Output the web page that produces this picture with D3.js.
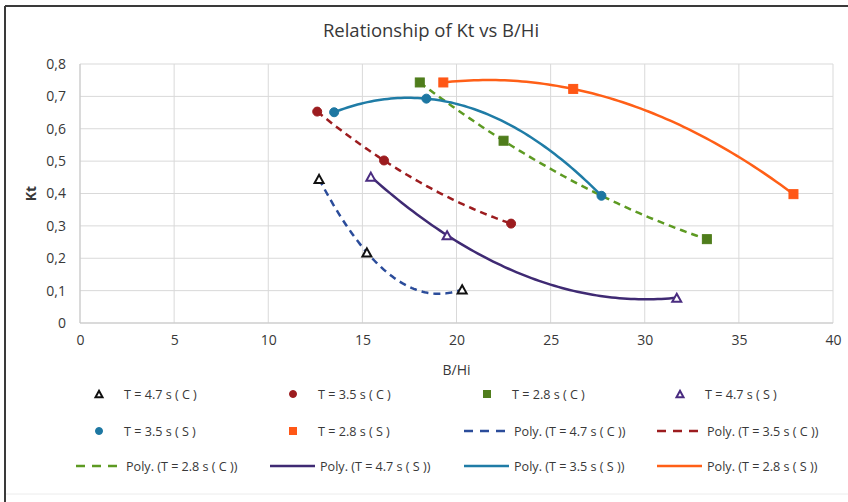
<!DOCTYPE html>
<html>
<head>
<meta charset="utf-8">
<script src="https://cdn.jsdelivr.net/npm/d3@7"></script>
<style>
  body { margin: 0; background: #fff; }
  text { font-family: "Open Sans", "Liberation Sans", sans-serif; fill: #383838; }
</style>
</head>
<body>
<div id="chart"></div>
<script>
// data
var seriesNames = ["T = 4.7 s ( C )", "T = 3.5 s ( C )", "T = 2.8 s ( C )",
                   "T = 4.7 s ( S )", "T = 3.5 s ( S )", "T = 2.8 s ( S )"];
var bhi47C = [12.7, 15.24, 20.3];  var kt47C = [0.445, 0.218, 0.104];
var bhi35C = [12.6, 16.15, 22.9];  var kt35C = [0.653, 0.502, 0.307];
var bhi28C = [18.05, 22.5, 33.3];  var kt28C = [0.743, 0.563, 0.259];
var bhi47S = [15.45, 19.5, 31.7];  var kt47S = [0.452, 0.271, 0.078];
var bhi35S = [13.5, 18.4, 27.7];   var kt35S = [0.651, 0.693, 0.393];
var bhi28S = [19.3, 26.2, 37.9];   var kt28S = [0.743, 0.723, 0.398];
var xTicks = [0, 5, 10, 15, 20, 25, 30, 35, 40];
var yTicks = [0, 0.1, 0.2, 0.3, 0.4, 0.5, 0.6, 0.7, 0.8];
var yTickLabels = ["0", "0,1", "0,2", "0,3", "0,4", "0,5", "0,6", "0,7", "0,8"];

var svgWidth = 848, svgHeight = 502;
var plot = {left: 80, right: 833, top: 64, bottom: 323};

var svg = d3.select("#chart").append("svg")
    .attr("width", svgWidth)
    .attr("height", svgHeight);

// chart frame (cut off on the right)
svg.append("line").attr("x1", 5).attr("x2", svgWidth).attr("y1", 6).attr("y2", 6)
    .style("stroke", "#3a3a3a").style("stroke-width", 2);
svg.append("line").attr("x1", 5).attr("x2", 5).attr("y1", 6).attr("y2", svgHeight)
    .style("stroke", "#3a3a3a").style("stroke-width", 2);
svg.append("line").attr("x1", 6).attr("x2", svgWidth).attr("y1", 494).attr("y2", 494)
    .style("stroke", "#ececec").style("stroke-width", 1);

var x = d3.scaleLinear().domain([0, 40]).range([plot.left, plot.right]);
var y = d3.scaleLinear().domain([0, 0.8]).range([plot.bottom, plot.top]);

// gridlines
svg.append("g").selectAll("line").data(xTicks).enter().append("line")
    .attr("x1", function(d){ return x(d); }).attr("x2", function(d){ return x(d); })
    .attr("y1", plot.top).attr("y2", plot.bottom)
    .style("stroke", "#d9d9d9").style("stroke-width", 1);
svg.append("g").selectAll("line").data(yTicks).enter().append("line")
    .attr("x1", plot.left).attr("x2", plot.right)
    .attr("y1", function(d){ return y(d); }).attr("y2", function(d){ return y(d); })
    .style("stroke", "#d9d9d9").style("stroke-width", 1);
svg.append("line").attr("x1", plot.left).attr("x2", plot.right)
    .attr("y1", plot.bottom).attr("y2", plot.bottom).style("stroke", "#c8c8c8");
svg.append("line").attr("x1", plot.left).attr("x2", plot.left)
    .attr("y1", plot.top).attr("y2", plot.bottom).style("stroke", "#c8c8c8");

// axes (labels only)
var xAxis = svg.append("g").attr("transform", "translate(0," + plot.bottom + ")")
    .call(d3.axisBottom(x).tickValues(xTicks).tickSize(0).tickPadding(12));
var yAxis = svg.append("g").attr("transform", "translate(" + plot.left + ",0)")
    .call(d3.axisLeft(y).tickValues(yTicks).tickSize(0).tickPadding(14)
        .tickFormat(function(d, i){ return yTickLabels[i]; }));
[xAxis, yAxis].forEach(function(a){
    a.select(".domain").remove();
    a.selectAll("text").attr("font-size", "14px")
        .style("font-family", "'Open Sans', sans-serif").style("fill", "#383838");
});

// titles
svg.append("text").attr("x", 431).attr("y", 37).attr("text-anchor", "middle")
    .attr("font-size", "18.5px").text("Relationship of Kt vs B/Hi");
svg.append("text").attr("x", (plot.left + plot.right) / 2).attr("y", 375)
    .attr("text-anchor", "middle").attr("font-size", "14px").text("B/Hi");
svg.append("text").attr("transform", "translate(36," + ((plot.top + plot.bottom) / 2) + ") rotate(-90)")
    .attr("text-anchor", "middle").attr("font-size", "14px").attr("font-weight", "bold").text("Kt");

// series styles
var series = [
  {xs: bhi47C, ys: kt47C, marker: "tri",    mFill: "#fff",    mStroke: "#111",    line: "#2b4c9a", dash: "7,5"},
  {xs: bhi35C, ys: kt35C, marker: "circle", mFill: "#9c1c1f", mStroke: "#9c1c1f", line: "#9c1c1f", dash: "7,5"},
  {xs: bhi28C, ys: kt28C, marker: "square", mFill: "#4f7d1c", mStroke: "#4f7d1c", line: "#5d9a22", dash: "7,5"},
  {xs: bhi47S, ys: kt47S, marker: "tri",    mFill: "#fff",    mStroke: "#4a2c80", line: "#3f2a73", dash: null},
  {xs: bhi35S, ys: kt35S, marker: "circle", mFill: "#1d77a2", mStroke: "#1d77a2", line: "#1f7ca6", dash: null},
  {xs: bhi28S, ys: kt28S, marker: "square", mFill: "#ff5716", mStroke: "#ff5716", line: "#ff5f17", dash: null}
];
series.forEach(function(s, i){ s.name = seriesNames[i]; });

// order-2 polynomial trendline (least squares, exact for 3 points)
function polyFit2(xs, ys) {
  var n = xs.length, S = [0,0,0,0,0], T = [0,0,0];
  for (var k = 0; k < n; k++) {
    var p = 1;
    for (var j = 0; j < 5; j++) { S[j] += p; if (j < 3) T[j] += p * ys[k]; p *= xs[k]; }
  }
  var A = [[S[0],S[1],S[2],T[0]],[S[1],S[2],S[3],T[1]],[S[2],S[3],S[4],T[2]]];
  for (var c = 0; c < 3; c++) {
    for (var r = c + 1; r < 3; r++) {
      var f = A[r][c] / A[c][c];
      for (var m = c; m < 4; m++) A[r][m] -= f * A[c][m];
    }
  }
  var b = [0,0,0];
  for (var r2 = 2; r2 >= 0; r2--) {
    var v = A[r2][3];
    for (var m2 = r2 + 1; m2 < 3; m2++) v -= A[r2][m2] * b[m2];
    b[r2] = v / A[r2][r2];
  }
  return function(t){ return b[0] + b[1] * t + b[2] * t * t; };
}

var lineGen = d3.line().x(function(d){ return x(d[0]); }).y(function(d){ return y(d[1]); });

series.forEach(function(s){
  var f = polyFit2(s.xs, s.ys);
  var lo = d3.min(s.xs), hi = d3.max(s.xs);
  var pts = d3.range(0, 81).map(function(k){ var t = lo + (hi - lo) * k / 80; return [t, f(t)]; });
  svg.append("path").datum(pts).attr("d", lineGen)
     .style("fill", "none").style("stroke", s.line).style("stroke-width", 2.5)
     .style("stroke-dasharray", s.dash);
});

function drawMarker(g, type, cx, cy, size, fill, stroke) {
  if (type === "circle") {
    g.append("circle").attr("cx", cx).attr("cy", cy).attr("r", size / 2)
      .style("fill", fill).style("stroke", stroke);
  } else if (type === "square") {
    g.append("rect").attr("x", cx - size / 2).attr("y", cy - size / 2)
      .attr("width", size).attr("height", size).style("fill", fill).style("stroke", stroke);
  } else {
    var h = size * 0.9;
    g.append("path")
      .attr("d", "M" + cx + "," + (cy - h / 2) + "L" + (cx + size / 2) + "," + (cy + h / 2) +
                 "L" + (cx - size / 2) + "," + (cy + h / 2) + "Z")
      .style("fill", fill).style("stroke", stroke).style("stroke-width", 2);
  }
}

series.forEach(function(s){
  var g = svg.append("g");
  s.xs.forEach(function(v, k){
    drawMarker(g, s.marker, x(v), y(s.ys[k]), 9, s.mFill, s.mStroke);
  });
});

// legend: 4 columns x 3 rows
var legendItems = [];
series.forEach(function(s){ legendItems.push({type: "marker", s: s, label: s.name}); });
series.forEach(function(s){ legendItems.push({type: "line", s: s, label: "Poly. (" + s.name + ")"}); });
var colX = [99, 293, 487, 680];
var rowY = [394, 431, 466];
var legend = svg.append("g");
legendItems.forEach(function(it, i){
  var cx = colX[i % 4], cy = rowY[Math.floor(i / 4)];
  if (it.type === "marker") {
    drawMarker(legend, it.s.marker, cx, cy, 7, it.s.mFill, it.s.mStroke);
  } else {
    legend.append("line").attr("x1", cx - 23).attr("x2", cx + 22).attr("y1", cy).attr("y2", cy)
      .style("stroke", it.s.line).style("stroke-width", 2.5)
      .style("stroke-dasharray", it.s.dash ? "9,7" : null);
  }
  legend.append("text").attr("x", cx + (it.type === "marker" ? 25 : 27)).attr("y", cy + 4.5)
    .attr("font-size", "12.6px").text(it.label);
});
</script>
</body>
</html>
